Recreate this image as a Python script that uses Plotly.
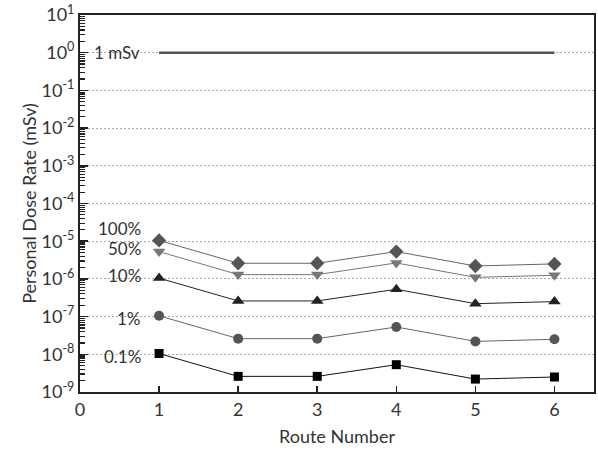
import plotly.graph_objects as go

routes = [1, 2, 3, 4, 5, 6]
s100 = [1.05e-5, 2.6e-6, 2.6e-6, 5.3e-6, 2.2e-6, 2.5e-6]
s50 = [5.3e-6, 1.3e-6, 1.3e-6, 2.65e-6, 1.1e-6, 1.25e-6]
s10 = [1.05e-6, 2.6e-7, 2.6e-7, 5.3e-7, 2.2e-7, 2.5e-7]
s1 = [1.05e-7, 2.6e-8, 2.6e-8, 5.3e-8, 2.2e-8, 2.5e-8]
s01 = [1.05e-8, 2.6e-9, 2.6e-9, 5.3e-9, 2.2e-9, 2.5e-9]
limit_x = [1, 6]
limit_y = [1, 1]
series_labels = ["100%", "50%", "10%", "1%", "0.1%"]
ytick_exp = list(range(-9, 2))
minor_vals = [m * 10.0 ** e for e in range(-9, 1) for m in range(2, 10)]

font = "Lato"
fig = go.Figure()
fig.add_trace(go.Scatter(x=limit_x, y=limit_y, mode="lines",
                         line=dict(color="#555555", width=2.4), showlegend=False))
specs = [
    (s100, "diamond", "#555555", "#666666", 11),
    (s50, "triangle-down", "#777777", "#777777", 11),
    (s10, "triangle-up", "#222222", "#222222", 11),
    (s1, "circle", "#555555", "#666666", 10),
    (s01, "square", "#000000", "#111111", 9),
]
for ys, sym, mc, lc, ms in specs:
    fig.add_trace(go.Scatter(x=routes, y=ys, mode="lines+markers",
                             marker=dict(symbol=sym, color=mc, size=ms, line=dict(width=0)),
                             line=dict(color=lc, width=1), showlegend=False))

label_y = [-4.65, -5.2, -5.92, -7.04, -8.05]
for txt, ly in zip(series_labels, label_y):
    fig.add_annotation(x=0.8, y=ly, xref="x", yref="y", text=txt, showarrow=False,
                       xanchor="right", yanchor="middle",
                       font=dict(family=font, size=17, color="#333333"))
fig.add_annotation(x=0.78, y=0, xref="x", yref="y", text="1 mSv", showarrow=False,
                   xanchor="right", yanchor="middle",
                   font=dict(family=font, size=17, color="#333333"))

fig.update_layout(
    width=598, height=451,
    margin=dict(l=80, r=4, t=15, b=59),
    plot_bgcolor="white", paper_bgcolor="white",
    font=dict(family=font, color="#333333"),
    xaxis=dict(range=[0, 6.5], tickvals=[0, 1, 2, 3, 4, 5, 6], automargin=False,
               ticks="inside", ticklen=6, tickcolor="#222", tickwidth=1.5,
               showline=True, linecolor="#222", linewidth=2, mirror=True,
               showgrid=False, zeroline=False,
               tickfont=dict(size=18, color="#333"),
               title=dict(text="Route Number", font=dict(size=18, color="#333"), standoff=12)),
    yaxis=dict(type="log", range=[-9, 1], automargin=False,
               tickvals=[10.0 ** e for e in ytick_exp],
               ticktext=["10<sup>%d</sup>" % e for e in ytick_exp],
               ticks="inside", ticklen=8, tickcolor="#222", tickwidth=1.5,
               showline=True, linecolor="#222", linewidth=2, mirror=True,
               showgrid=True, gridcolor="#aaaaaa", griddash="2px,2px", gridwidth=1,
               zeroline=False,
               minor=dict(ticks="inside", ticklen=5, tickcolor="#222", tickwidth=1.2,
                          tickmode="array", tickvals=minor_vals, showgrid=False),
               tickfont=dict(size=18, color="#333"),
               title=dict(text="Personal Dose Rate (mSv)", font=dict(size=18, color="#333"), standoff=0)),
)
fig.write_html("out.html", config={"displayModeBar": False, "staticPlot": True},
               post_script="document.body.style.margin='0';document.body.style.overflow='hidden';")
